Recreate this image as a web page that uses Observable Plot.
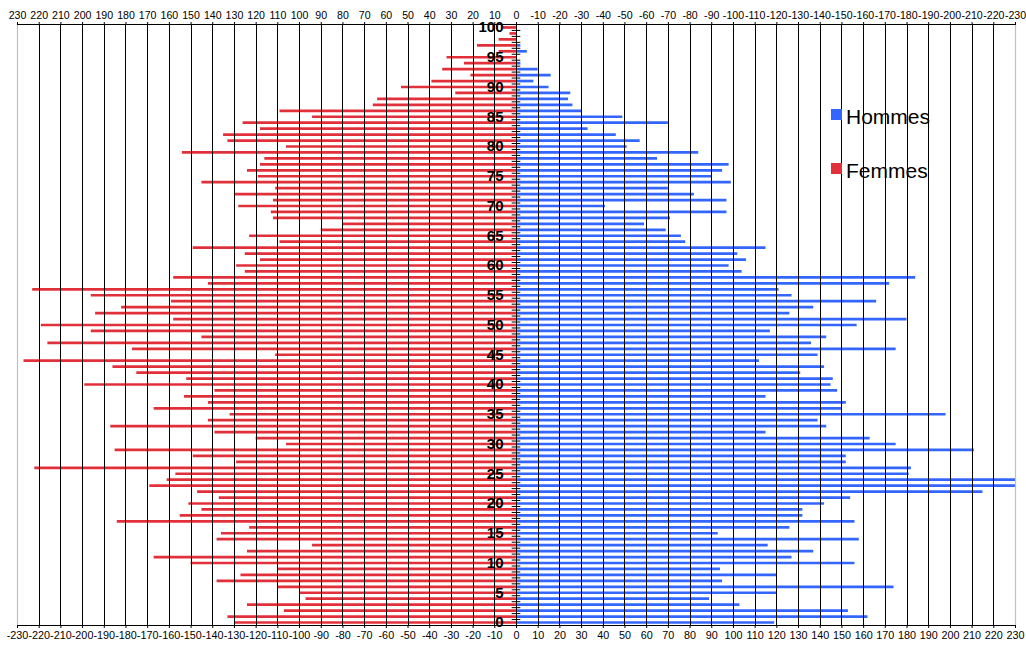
<!DOCTYPE html>
<html>
<head>
<meta charset="utf-8">
<script src="https://cdn.jsdelivr.net/npm/d3@7"></script>
<script src="https://cdn.jsdelivr.net/npm/@observablehq/plot@0.6"></script>
<style>
  html, body { margin: 0; padding: 0; background: #fff; }
  #wrap { position: relative; width: 1026px; height: 646px; }
  .leg { position: absolute; font-family: "Liberation Sans", Arial, sans-serif; font-size: 21px; line-height: 21px; color: #000; white-space: nowrap; }
  .sw { position: absolute; width: 11px; height: 11px; }
</style>
</head>
<body>
<div id="wrap"></div>
<script>
const ages = d3.range(0, 101);
const femmes = [130,133,107,124,97,100,110,138,127,110,
  150,167,124,94,138,136,123,184,155,145,
  151,137,147,169,161,157,222,129,149,185,
  106,120,139,187,142,132,167,142,153,139,
  199,152,175,186,227,111,177,216,145,196,
  219,158,194,182,159,196,223,142,158,125,
  129,118,125,149,109,123,90,80,112,113,
  128,112,130,111,145,119,124,118,116,154,
  106,133,135,118,126,94,109,66,64,28,
  53,39,21,34,24,32,8,18,8,3,6];
const hommes = [119,162,153,103,89,120,174,95,120,94,
  156,127,137,116,158,93,126,156,132,132,
  142,154,215,230,230,181,182,152,152,211,
  175,163,115,143,139,198,150,152,115,148,
  145,146,131,142,112,139,175,136,143,117,
  157,180,126,137,166,127,121,172,184,104,
  98,106,102,115,78,76,69,59,71,97,
  41,97,82,70,99,90,95,98,65,84,
  51,57,46,33,70,49,30,26,24,25,
  15,8,16,10,2,0,5,2,0,0,0];
const xTicks = d3.range(-230, 231, 10);
const yLabels = d3.range(0, 101, 5);
const series = ["Hommes", "Femmes"];
const colors = ["#3366ff", "#e2303a"];

const rowsF = ages.map((a, i) => ({age: a, v: -femmes[i]}));
const rowsH = ages.map((a, i) => ({age: a, v: hommes[i]}));
const boundaries = d3.range(-0.5, 101, 1);

const chart = Plot.plot({
  width: 1026,
  height: 646,
  marginLeft: 17,
  marginRight: 11,
  marginTop: 24,
  marginBottom: 21,
  style: {fontFamily: "'Liberation Sans', Arial, sans-serif", background: "#fff", color: "#000"},
  x: {domain: [-230, 230], axis: null, label: null},
  y: {domain: [-0.5, 100.5], axis: null, label: null},
  marks: [
    Plot.ruleY(rowsF, {y: "age", x1: 0, x2: "v", stroke: colors[1], strokeWidth: 2.7}),
    Plot.ruleY(rowsH, {y: "age", x1: 0, x2: "v", stroke: colors[0], strokeWidth: 2.7}),
    Plot.ruleX(xTicks.filter(d => Math.abs(d) !== 230), {stroke: "#000", strokeWidth: 1, shapeRendering: "crispEdges"}),
    Plot.ruleX([-230, 230], {stroke: "#c0c0c0", strokeWidth: 1.2}),
    Plot.ruleY([-0.5, 100.5], {stroke: "#000", strokeWidth: 1}),
    Plot.ruleX([0], {stroke: "#000", strokeWidth: 1, shapeRendering: "crispEdges"}),
    Plot.ruleY(boundaries, {x1: -2, x2: 2, stroke: "#000", strokeWidth: 1}),
    Plot.axisX(xTicks, {anchor: "bottom", label: null, tickSize: 3, tickPadding: 3, fontSize: 10.8, tickFormat: d => String(d)}),
    Plot.axisX(xTicks, {anchor: "top", label: null, tickSize: 3, tickPadding: 3, fontSize: 10.6, tickFormat: d => String(-d)}),
    Plot.text(yLabels, {x: 0, y: d => d, text: d => String(d), dx: -13, dy: 0, textAnchor: "end", fontWeight: "bold", fontSize: 15, fill: "#000"})
  ]
});
const wrap = document.getElementById("wrap");
wrap.appendChild(chart);

const legTops = [106, 160];
const swTops = [109, 163];
series.forEach((s, i) => {
  const sw = document.createElement("div");
  sw.className = "sw";
  sw.style.left = "831px";
  sw.style.top = swTops[i] + "px";
  sw.style.background = colors[i];
  wrap.appendChild(sw);
  const t = document.createElement("div");
  t.className = "leg";
  t.style.left = "846px";
  t.style.top = legTops[i] + "px";
  t.textContent = s;
  wrap.appendChild(t);
});
</script>
</body>
</html>
